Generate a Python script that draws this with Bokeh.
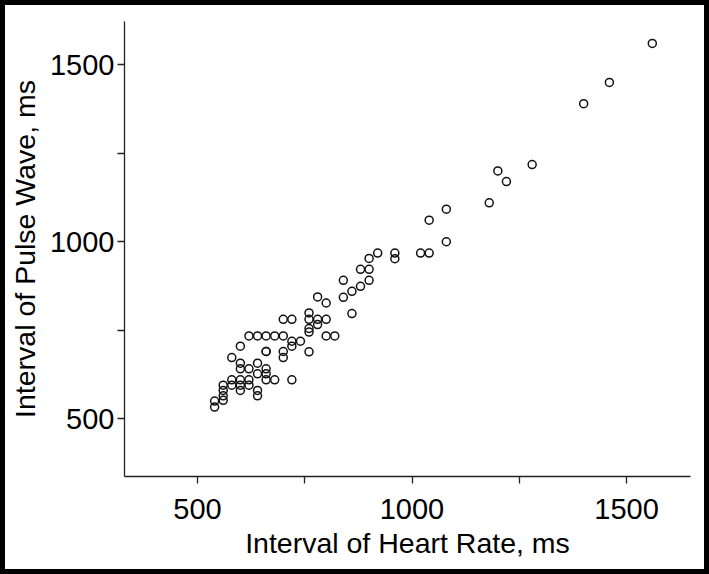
from bokeh.plotting import figure
from bokeh.models import Range1d, FixedTicker, ColumnDataSource
from bokeh.embed import file_html
from bokeh.resources import INLINE

# Interval of heart rate (ms) and interval of pulse wave (ms)
heart_rate = [1560, 1460, 1400, 1280, 1200, 1220, 1180, 1080, 1040, 1080,
              920, 960, 960, 1020, 1040, 900, 880, 900, 840, 900,
              880, 860, 840, 860, 780, 800, 700, 720, 760, 760,
              780, 800, 760, 760, 780, 800, 820, 620, 640, 660,
              680, 700, 720, 740, 720, 700, 700, 660, 660, 760,
              600, 580, 600, 600, 620, 640, 660, 660, 640, 660,
              680, 720, 580, 600, 620, 560, 580, 600, 620, 560,
              600, 560, 640, 640, 560, 540, 540]
pulse_wave = [1560, 1450, 1390, 1218, 1200, 1170, 1110, 1092, 1061, 1000,
              968, 968, 952, 968, 968, 953, 922, 922, 891, 891,
              874, 860, 843, 797, 844, 827, 781, 781, 799, 781,
              781, 781, 755, 745, 766, 734, 734, 734, 734, 734,
              734, 734, 719, 719, 705, 690, 673, 690, 690, 689,
              705, 673, 657, 641, 641, 657, 641, 627, 627, 610,
              610, 610, 610, 610, 610, 595, 595, 595, 595, 580,
              580, 565, 580, 565, 552, 550, 533]

major_ticks = [500, 1000, 1500]
minor_ticks = [750, 1250]
x_title = "Interval of Heart Rate, ms"
y_title = "Interval of Pulse Wave, ms"

src = ColumnDataSource(data=dict(x=heart_rate, y=pulse_wave))

p = figure(width=709, height=574, output_backend="svg", toolbar_location=None,
           x_range=Range1d(330, 1649), y_range=Range1d(337, 1622),
           min_border_left=118, min_border_right=24, min_border_top=16,
           min_border_bottom=103)
p.styles = {"border": "5px solid black"}

p.scatter(x="x", y="y", source=src, marker="circle", size=8,
          fill_color=None, line_color="#111111", line_width=1.5)

p.xgrid.visible = False
p.ygrid.visible = False
p.outline_line_color = None
p.background_fill_color = "white"
p.border_fill_color = "white"

for ax in (p.xaxis[0], p.yaxis[0]):
    ax.ticker = FixedTicker(ticks=major_ticks, minor_ticks=minor_ticks)
    ax.axis_line_color = "#222222"
    ax.axis_line_width = 1.3
    ax.major_tick_line_color = "#222222"
    ax.minor_tick_line_color = "#222222"
    ax.major_tick_line_width = 1.3
    ax.minor_tick_line_width = 1.3
    ax.major_tick_in = 0
    ax.major_tick_out = 7
    ax.minor_tick_in = 0
    ax.minor_tick_out = 7
    ax.major_label_text_font = "Liberation Sans"
    ax.major_label_text_font_size = "29px"
    ax.major_label_text_color = "black"
    ax.axis_label_text_font = "Liberation Sans"
    ax.axis_label_text_font_size = "28.5px"
    ax.axis_label_text_font_style = "normal"
    ax.axis_label_text_color = "black"

p.xaxis.axis_label = x_title
p.yaxis.axis_label = y_title
p.xaxis.major_label_standoff = 15
p.xaxis.axis_label_standoff = 5
p.yaxis.major_label_standoff = 3
p.yaxis.axis_label_standoff = 6
p.yaxis.major_label_orientation = "horizontal"

open("out.html", "w").write(file_html(p, INLINE))
